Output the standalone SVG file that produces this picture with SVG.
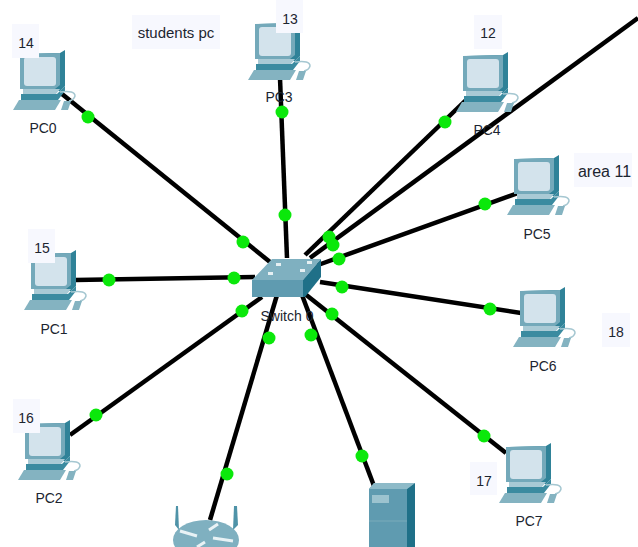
<svg xmlns="http://www.w3.org/2000/svg" width="638" height="547" viewBox="0 0 638 547">
<style>
text{font-family:"Liberation Sans",Arial,sans-serif;font-size:14px;fill:#1c2530;text-anchor:middle}
.l{stroke:#000;stroke-width:4.5;fill:none}
.d{fill:#0be80b}
.n{fill:#f7f8fe}
.note{font-size:15px}
</style>
<defs>
<g id="pc">
<path d="M10 4 L47 3 L52 0 L52 36 L47 41 L10 41 Z" fill="#2f8298"/>
<path d="M7 4 L47 3 L47 35 L42 39 L7 39 Z" fill="#74a9ba"/>
<rect x="11" y="7" width="32" height="29" rx="3" fill="#d3e3ec"/>
<path d="M10 39 H47 L43 44 H10 Z" fill="#a9cad5"/>
<path d="M8 44 H44 L52 36 V41 L45 50 H8 Z" fill="#3b8ba0"/>
<path d="M6 50 H48 L42 60 H0 Z" fill="#84b3c1"/>
<path d="M47 42 Q62 40 62 46 Q61 50 56 51" fill="none" stroke="#a5c7d1" stroke-width="1.5"/>
<path d="M51 51 H58 L55 60 H48 Z" fill="#84b3c1"/>
</g>
</defs>
<rect width="638" height="547" fill="#fff"/>
<g id="connectors">
<path class="l" d="M62 94L270 262"/>
<path class="l" d="M280 78L287 258"/>
<path class="l" d="M466 100L305 255"/>
<path class="l" d="M638 18L310 258"/>
<path class="l" d="M521 192L318 265"/>
<path class="l" d="M521 313L320 282"/>
<path class="l" d="M506 453L300 290"/>
<path class="l" d="M374 486L302 295"/>
<path class="l" d="M210 520L277 295"/>
<path class="l" d="M70 435L262 297"/>
<path class="l" d="M75 280L255 277"/>
<circle class="d" cx="88" cy="117" r="6.5"/>
<circle class="d" cx="243" cy="242" r="6.5"/>
<circle class="d" cx="282" cy="112" r="6.5"/>
<circle class="d" cx="285" cy="215" r="6.5"/>
<circle class="d" cx="445" cy="122" r="6.5"/>
<circle class="d" cx="329" cy="237" r="6.5"/>
<circle class="d" cx="333" cy="245" r="6.5"/>
<circle class="d" cx="485" cy="204" r="6.5"/>
<circle class="d" cx="339" cy="259" r="6.5"/>
<circle class="d" cx="490" cy="309" r="6.5"/>
<circle class="d" cx="342" cy="287" r="6.5"/>
<circle class="d" cx="484" cy="436" r="6.5"/>
<circle class="d" cx="332" cy="314" r="6.5"/>
<circle class="d" cx="362" cy="456" r="6.5"/>
<circle class="d" cx="311" cy="335" r="6.5"/>
<circle class="d" cx="227" cy="474" r="6.5"/>
<circle class="d" cx="269" cy="338" r="6.5"/>
<circle class="d" cx="96" cy="415" r="6.5"/>
<circle class="d" cx="242" cy="311" r="6.5"/>
<circle class="d" cx="109" cy="280" r="6.5"/>
<circle class="d" cx="234" cy="278" r="6.5"/>
</g>
<g id="pc0"><use href="#pc" x="13" y="50"/><rect class="n" x="12" y="24" width="27" height="34"/><text x="26" y="48">14</text><text x="43" y="133">PC0</text></g>
<g id="pc1"><use href="#pc" x="24" y="250"/><rect class="n" x="28" y="229" width="27" height="34"/><text x="42" y="253">15</text><text x="54" y="334">PC1</text></g>
<g id="pc2"><use href="#pc" x="18" y="420"/><rect class="n" x="13" y="399" width="27" height="34"/><text x="26" y="423">16</text><text x="49" y="503">PC2</text></g>
<g id="pc3"><use href="#pc" x="248" y="20"/><rect class="n" x="276" y="0" width="27" height="33"/><text x="290" y="24">13</text><text x="279" y="102">PC3</text></g>
<g id="pc4"><use href="#pc" x="456" y="52"/><rect class="n" x="474" y="15" width="28" height="34"/><text x="488" y="38">12</text><text x="487" y="135">PC4</text></g>
<g id="pc5"><use href="#pc" x="507" y="155"/><rect class="n" x="574" y="153" width="58" height="34"/><text class="note" x="604.5" y="177" style="font-size:16px">area 11</text><text x="537" y="239">PC5</text></g>
<g id="pc6"><use href="#pc" x="513" y="287"/><rect class="n" x="602" y="313" width="28" height="34"/><text x="616" y="337">18</text><text x="543" y="371">PC6</text></g>
<g id="pc7"><use href="#pc" x="499" y="443"/><rect class="n" x="470" y="462" width="27" height="33"/><text x="484" y="486">17</text><text x="529" y="526">PC7</text></g>
<g id="students-note"><rect class="n" x="132" y="15" width="88" height="34"/><text class="note" x="176" y="38">students pc</text></g>
<g id="switch0">
<path d="M252 280 L272 259 H321 L303 280 Z" fill="#7fb0c0"/>
<path d="M303 280 L321 259 V277 L305 297 H303 Z" fill="#1f7088"/>
<path d="M252 280 H303 V297 H252 Z" fill="#5f9bb0"/>
<g fill="#e6f0f3"><rect x="276" y="263" width="5" height="3"/><rect x="307" y="261" width="5" height="3"/><rect x="268" y="272" width="5" height="3"/><rect x="300" y="269" width="5" height="3"/></g>
<text x="287" y="321">Switch 0</text>
</g>
<g id="router">
<path d="M175 525 L176 506 H178 L179 530 Z" fill="#4f93a8"/>
<path d="M233 530 L234 506 H237 L238 525 Z" fill="#4f93a8"/>
<ellipse cx="206" cy="540" rx="33" ry="20" fill="#7fb0c0"/>
<path d="M180 531 L197 536 M209 530 L218 524 M213 538 L233 541 M197 547 L205 542" stroke="#e8f2f5" stroke-width="3" fill="none"/>
</g>
<g id="server">
<path d="M369 489 L374 483 H415 V547 H369 Z" fill="#5f9bb0"/>
<path d="M407 489 L415 483 V547 H407 Z" fill="#1f7088"/>
<path d="M369 489 L374 483 H415 L407 489 Z" fill="#8dbac8"/>
<rect x="372" y="495" width="17" height="8" fill="#9cc3cf"/>
<path d="M369 521 H407" stroke="#7aabba" stroke-width="1"/>
</g>
</svg>
